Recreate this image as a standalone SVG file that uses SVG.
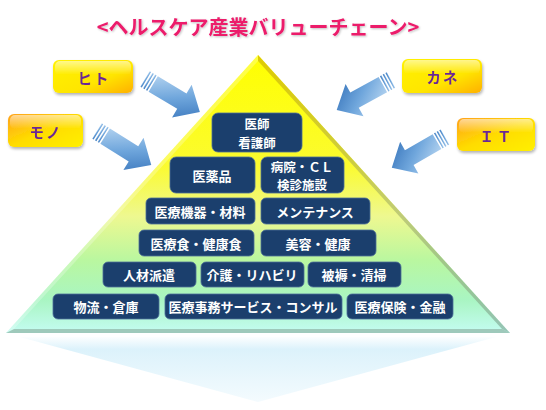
<svg xmlns="http://www.w3.org/2000/svg" width="546" height="410" viewBox="0 0 546 410">
<defs>
<style>
.nb{fill:#1b3f6d;stroke:#4d6f98;stroke-width:0.8}
.nt{font-family:"Noto Sans CJK JP","Noto Sans",sans-serif;font-weight:bold;font-size:13px;fill:#ffffff;text-anchor:middle;dominant-baseline:central}
.n2{font-size:12.5px}
.it{font-family:"Noto Sans CJK JP","Noto Sans",sans-serif;font-weight:bold;font-size:14.5px;fill:#6a2896;text-anchor:middle;dominant-baseline:central}
</style>
<linearGradient id="pyr" x1="0" y1="55" x2="0" y2="333" gradientUnits="userSpaceOnUse">
<stop offset="0" stop-color="#ffff00"/>
<stop offset="0.4" stop-color="#fbfb30"/>
<stop offset="0.58" stop-color="#eef890"/>
<stop offset="0.74" stop-color="#b9f7a0"/>
<stop offset="0.88" stop-color="#a9f5c2"/>
<stop offset="1" stop-color="#c4fcf2"/>
</linearGradient>
<linearGradient id="bevR" x1="0" y1="55" x2="0" y2="333" gradientUnits="userSpaceOnUse">
<stop offset="0" stop-color="#c9a800"/>
<stop offset="0.5" stop-color="#a6b060"/>
<stop offset="1" stop-color="#7aa090"/>
</linearGradient>
<linearGradient id="refl" x1="0" y1="336" x2="0" y2="402" gradientUnits="userSpaceOnUse">
<stop offset="0" stop-color="#ffffff"/>
<stop offset="0.2" stop-color="#dcf2fb"/>
<stop offset="1" stop-color="#f4fbfe"/>
</linearGradient>
<linearGradient id="yo" x1="0" y1="0" x2="1" y2="1">
<stop offset="0" stop-color="#fff200"/>
<stop offset="0.6" stop-color="#ffe600"/>
<stop offset="1" stop-color="#ffb000"/>
</linearGradient>
<linearGradient id="oy" x1="0" y1="0" x2="1" y2="1">
<stop offset="0" stop-color="#ffa21c"/>
<stop offset="0.5" stop-color="#ffdc00"/>
<stop offset="1" stop-color="#fff000"/>
</linearGradient>
<linearGradient id="gloss" x1="0" y1="0" x2="0" y2="1">
<stop offset="0" stop-color="#ffffff" stop-opacity="0.55"/>
<stop offset="1" stop-color="#ffffff" stop-opacity="0"/>
</linearGradient>
<linearGradient id="arr" x1="0" y1="0" x2="1" y2="1">
<stop offset="0" stop-color="#c4def5"/>
<stop offset="0.5" stop-color="#6fa6dc"/>
<stop offset="1" stop-color="#2f6db6"/>
</linearGradient>
<filter id="sh" x="-20%" y="-20%" width="140%" height="160%">
<feGaussianBlur in="SourceAlpha" stdDeviation="1.5"/>
<feOffset dx="1" dy="2"/>
<feComponentTransfer><feFuncA type="linear" slope="0.3"/></feComponentTransfer>
<feMerge><feMergeNode/><feMergeNode in="SourceGraphic"/></feMerge>
</filter>
<filter id="tsh" x="-5%" y="-20%" width="110%" height="150%">
<feGaussianBlur in="SourceAlpha" stdDeviation="1"/>
<feOffset dx="1" dy="1"/>
<feComponentTransfer><feFuncA type="linear" slope="0.25"/></feComponentTransfer>
<feMerge><feMergeNode/><feMergeNode in="SourceGraphic"/></feMerge>
</filter>
<g id="arrow">
<rect x="0" y="-9" width="1.6" height="18"/>
<rect x="3.2" y="-9" width="1.6" height="18"/>
<rect x="6.4" y="-9" width="1.6" height="18"/>
<path d="M9.6,-9 L43,-9 L43,-19 L64,0 L43,19 L43,9 L9.6,9 Z"/>
</g>
</defs>

<rect width="546" height="410" fill="#ffffff"/>

<text x="258" y="35" font-family="'Noto Sans CJK JP','Noto Sans',sans-serif" font-weight="bold" font-size="20" fill="#ec1a6a" text-anchor="middle" filter="url(#tsh)">&lt;ヘルスケア産業バリューチェーン&gt;</text>

<g id="pyramid">
<polygon points="20,337 496,337 258,402" fill="url(#refl)"/>
<polygon points="258,55 6,333 510,333" fill="url(#pyr)"/>
<polygon points="258,55 510,333 502,329 258,61" fill="url(#bevR)" opacity="0.6"/>
<polygon points="6,333 510,333 502,329 14,329" fill="#8fb4a4" opacity="0.7"/>
<polygon points="258,55 6,333 14,329 258,61" fill="#ffffff" opacity="0.25"/>
</g>

<g id="connectors" fill="url(#arr)">
<use href="#arrow" transform="translate(145,79) rotate(31)"/>
<use href="#arrow" transform="translate(97,131) rotate(32)"/>
<use href="#arrow" transform="translate(391,80) rotate(151) scale(0.97)"/>
<use href="#arrow" transform="translate(445,137) rotate(150) scale(0.96)"/>
</g>

<g id="hito" filter="url(#sh)">
<rect x="53" y="60" width="80" height="33" rx="6" fill="url(#yo)"/>
<rect x="55" y="61" width="76" height="14" rx="5" fill="url(#gloss)"/>
<text class="it" x="94" y="77" letter-spacing="2">ヒト</text>
</g>
<g id="mono" filter="url(#sh)">
<rect x="8" y="114" width="75" height="33" rx="6" fill="url(#oy)"/>
<rect x="10" y="115" width="71" height="14" rx="5" fill="url(#gloss)"/>
<text class="it" x="46" y="131" letter-spacing="2">モノ</text>
</g>
<g id="kane" filter="url(#sh)">
<rect x="402" y="59" width="80" height="34" rx="6" fill="url(#yo)"/>
<rect x="404" y="60" width="76" height="14" rx="5" fill="url(#gloss)"/>
<text class="it" x="443" y="76" letter-spacing="2">カネ</text>
</g>
<g id="it" filter="url(#sh)">
<rect x="457" y="118" width="78" height="33" rx="6" fill="url(#oy)"/>
<rect x="459" y="119" width="74" height="14" rx="5" fill="url(#gloss)"/>
<text class="it" x="497" y="135" letter-spacing="3">ＩＴ</text>
</g>

<g id="n1"><rect class="nb" x="212" y="113" width="90" height="39" rx="6"/><text class="nt n2" x="257" y="123.5">医師</text><text class="nt n2" x="257" y="142">看護師</text></g>
<g id="n2"><rect class="nb" x="170" y="157" width="85" height="36" rx="6"/><text class="nt" x="212" y="175">医薬品</text></g>
<g id="n3"><rect class="nb" x="261" y="157" width="83" height="36" rx="6"/><text class="nt n2" x="302" y="166">病院・ＣＬ</text><text class="nt n2" x="302" y="184.5">検診施設</text></g>
<g id="n4"><rect class="nb" x="146" y="198" width="109" height="26" rx="5"/><text class="nt" x="200" y="211">医療機器・材料</text></g>
<g id="n5"><rect class="nb" x="261" y="198" width="109" height="26" rx="5"/><text class="nt" x="315" y="211">メンテナンス</text></g>
<g id="n6"><rect class="nb" x="139" y="230" width="115" height="26" rx="5"/><text class="nt" x="196" y="243">医療食・健康食</text></g>
<g id="n7"><rect class="nb" x="261" y="230" width="115" height="26" rx="5"/><text class="nt" x="318" y="243">美容・健康</text></g>
<g id="n8"><rect class="nb" x="103" y="262" width="93" height="25" rx="5"/><text class="nt" x="149" y="274.5">人材派遣</text></g>
<g id="n9"><rect class="nb" x="201" y="262" width="103" height="25" rx="5"/><text class="nt" x="252" y="274.5">介護・リハビリ</text></g>
<g id="n10"><rect class="nb" x="308" y="262" width="93" height="25" rx="5"/><text class="nt" x="354" y="274.5">被褥・清掃</text></g>
<g id="n11"><rect class="nb" x="53" y="294" width="106" height="25" rx="5"/><text class="nt" x="106" y="306.5">物流・倉庫</text></g>
<g id="n12"><rect class="nb" x="165" y="294" width="177" height="25" rx="5"/><text class="nt" x="253" y="306.5">医療事務サービス・コンサル</text></g>
<g id="n13"><rect class="nb" x="347" y="294" width="106" height="25" rx="5"/><text class="nt" x="400" y="306.5">医療保険・金融</text></g>
</svg>
